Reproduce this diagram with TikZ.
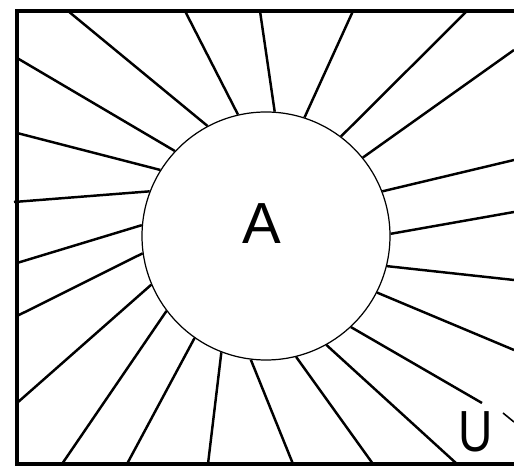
\documentclass[tikz,border=0pt]{standalone}
\usepackage{fontspec}
\setmainfont{Liberation Sans}
\usepackage{tikz}
\usetikzlibrary{calc}
\tikzstyle{frameline} = [line width=2pt, black, line cap=rect]
\tikzstyle{ray} = [line width=1.4pt, black]
\tikzstyle{sunbox} = [circle, draw=black, line width=0.7pt, minimum size=49.6mm, inner sep=0pt]
\tikzstyle{biglabel} = [inner sep=0pt, font=\fontsize{33}{33}\selectfont]

\begin{document}
\begin{tikzpicture}[x=0.2mm, y=-0.2mm]
  \useasboundingbox (0,0) rectangle (514,466);

  % frame, open on the right
  \draw[frameline] (514,11) -- (17,11) -- (17,464) -- (514,464);

  \node (sun) [sunbox] at (266,236) {};
  \node (lblA) [biglabel] at (262,224) {A};
  \node (lblU) [biglabel, xscale=0.82] at (476,432) {U};

  % outer ends of the rays
  \coordinate (t1) at (68,11);
  \coordinate (t2) at (185,11);
  \coordinate (t3) at (260,11);
  \coordinate (t4) at (353,11);
  \coordinate (t5) at (467,11);
  \coordinate (l1) at (17,58);
  \coordinate (l2) at (17,133);
  \coordinate (l3) at (14,202);
  \coordinate (l4) at (17,263);
  \coordinate (l5) at (17,316);
  \coordinate (l6) at (17,403);
  \coordinate (b1) at (62,464);
  \coordinate (b2) at (127,464);
  \coordinate (b3) at (208,464);
  \coordinate (b4) at (293,464);
  \coordinate (b5) at (373,464);
  \coordinate (b6) at (457,464);
  \coordinate (r1) at (514,50);
  \coordinate (r2) at (514,160);
  \coordinate (r3) at (514,212);
  \coordinate (r4) at (514,280);
  \coordinate (r5) at (514,350);
  \coordinate (u)  at (482,403);
  \coordinate (u1) at (503,413);
  \coordinate (u2) at (514,422);

  % rays
  \foreach \ang/\tip in {118/t1, 103.2/t2, 86.7/t3, 72.6/t4, 53.2/t5,
      137.6/l1, 148.9/l2, 159.3/l3, 175/l4, 188.7/l5, 203.6/l6,
      217.9/b1, 235.9/b2, 249.8/b3, 263.5/b4, 284.5/b5, 299.2/b6,
      39.4/r1, 21.1/r2, 1.8/r3, 346.7/r4, 333/r5, 313.1/u}
    \draw[ray] (sun.\ang) -- (\tip);

  \draw[line width=0.9pt] (u1) -- (u2);
\end{tikzpicture}
\end{document}
